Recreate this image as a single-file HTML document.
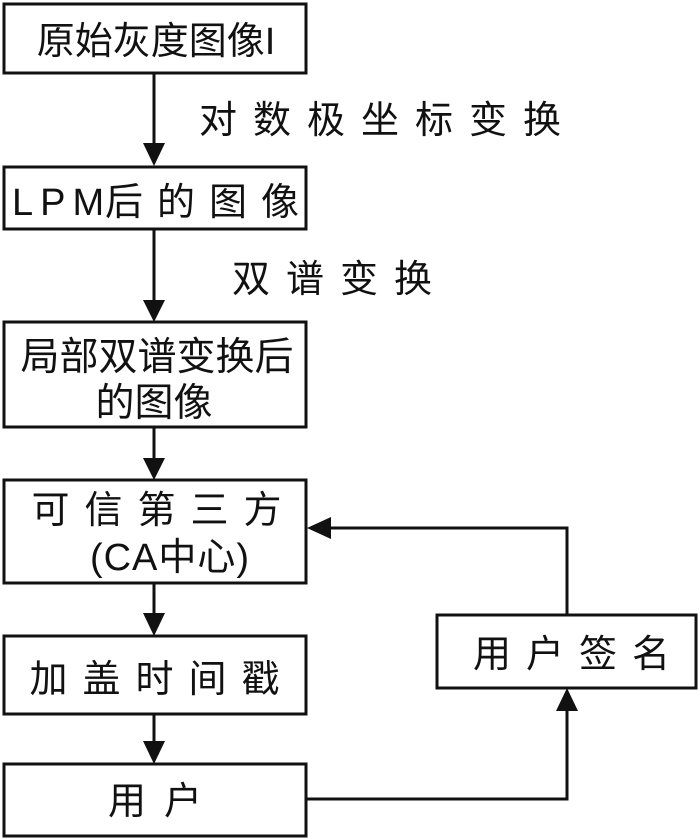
<!DOCTYPE html>
<html><head><meta charset="utf-8"><style>
html,body{margin:0;padding:0;background:#fff;width:700px;height:839px;overflow:hidden}
svg text{font-family:"Liberation Sans","Noto Sans CJK SC",sans-serif;fill:#111}
</style></head><body>
<svg width="700" height="839" viewBox="0 0 700 839" xmlns="http://www.w3.org/2000/svg">
<g fill="none" stroke="#111" stroke-width="3">
<rect x="4" y="4" width="302" height="69"/>
<rect x="4" y="167" width="302" height="62"/>
<rect x="4" y="322" width="302" height="105"/>
<rect x="4" y="480" width="302" height="103"/>
<rect x="4" y="636" width="302" height="78"/>
<rect x="4" y="764" width="302" height="72"/>
<rect x="437" y="615" width="259" height="73"/>
<path d="M154 73V150M154 229V305M154 427V462M154 583V618M154 714V746"/>
<path d="M306 799H567V706M567 615V528H328"/>
</g>
<g fill="#111">
<polygon points="143,143 165,143 154,166"/>
<polygon points="143,300 165,300 154,322"/>
<polygon points="143,458 165,458 154,480"/>
<polygon points="143,613 165,613 154,636"/>
<polygon points="143,741 165,741 154,764"/>
<polygon points="307,528 331,517 331,539"/>
<polygon points="556,711 578,711 567,688"/>
</g>
<g font-size="38">
<text x="12" y="215" letter-spacing="7">LPM</text>
<text x="105" y="215" letter-spacing="14">后的图像</text>
</g>
<g font-size="38" text-anchor="middle">
<text x="156" y="54">原始灰度图像I</text>
<text x="157" y="370" font-size="39">局部双谱变换后</text>
<text x="154" y="416" font-size="39">的图像</text>
<text x="164" y="523" letter-spacing="15">可信第三方</text>
<text x="170" y="570" letter-spacing="1">(CA中心)</text>
<text x="162" y="692" letter-spacing="15">加盖时间戳</text>
<text x="164" y="814" letter-spacing="18">用户</text>
<text x="579" y="667" letter-spacing="15">用户签名</text>
<text x="388" y="133" letter-spacing="16">对数极坐标变换</text>
<text x="340" y="292" letter-spacing="16">双谱变换</text>
</g>
</svg>
</body></html>
